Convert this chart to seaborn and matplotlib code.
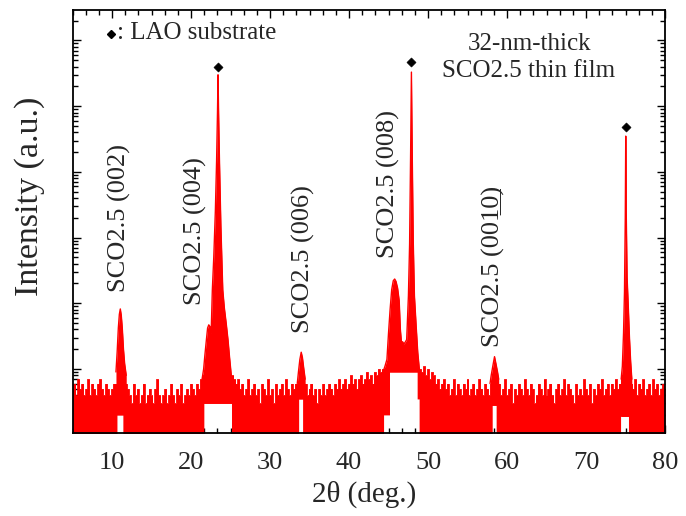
import numpy as np
import matplotlib
matplotlib.use('Agg')
import matplotlib.pyplot as plt
from matplotlib.ticker import MultipleLocator, LogLocator, NullFormatter
import seaborn as sns

# background counts, one value every 0.25 deg from 5 deg to 80 deg
bg_start, bg_step = 5.0, 0.25
bg_counts = [
    5, 6, 4, 7, 5, 6, 4, 5, 7, 4, 6, 5, 4, 6, 7, 5, 4, 6, 5, 4, 5, 6,          # 5 - 10.25
    6, 6, 6, 6, 6, 6,                                                          # 10.5 - 11.75
    5, 4, 3, 6, 4, 5, 3, 4, 6, 3, 4, 5, 4, 3, 5, 7, 4, 3, 4, 5, 3, 4, 6, 4, 3,
    5, 4, 6, 3, 4, 5, 4, 6,                                                    # 12 - 20
    5, 4, 6, 5, 7,                                                             # 20.25 - 21.25
    8, 8, 8, 8, 8, 8, 8, 8, 8, 8, 8, 8, 8, 8, 8, 8,                            # 21.5 - 25.25
    7, 6, 7, 5, 6, 4, 5, 7, 4, 5, 6, 4, 5, 3, 6, 5, 4, 7, 4, 5, 3, 6, 4, 5, 6,
    4, 7, 5, 4, 6, 5, 6,                                                       # 25.5 - 33.25
    6, 6, 6, 6, 6,                                                             # 33.5 - 34.5
    4, 5, 6, 4, 5, 3, 5, 4, 6, 4, 5, 6, 5, 4, 6, 5, 7, 5, 6, 7, 5, 6, 8, 6, 7,
    5, 7, 8, 6, 7, 9, 7, 8, 6, 9, 8, 10, 9,                                    # 34.75 - 44
    10, 10, 10, 10, 10, 10, 10, 10, 10, 10, 10, 10, 10, 10, 10, 10, 10, 10, 10, 10,  # 44.25 - 49
    9, 11, 8, 10, 7, 9, 8, 6, 7, 5, 6, 7, 5, 6, 4, 5, 7, 4, 6, 5, 4, 6, 5, 7, 4,
    5, 6, 4, 5, 7, 5, 4, 6, 5, 4, 6,                                           # 49.25 - 58
    6, 6,                                                                      # 58.25 - 58.5
    5, 6, 4, 5, 7, 4, 5, 6, 3, 5, 4, 6, 5, 4, 7, 5, 4, 6, 5, 3, 4, 6, 5, 4, 7,
    4, 5, 6, 4, 3, 5, 6, 4, 5, 7, 4, 6, 5, 4, 3, 6, 4, 5, 4, 7, 5, 4, 6, 3, 5,
    4, 6, 5, 7, 4, 5, 6, 4, 6, 5, 7, 5, 6,                                     # 58.75 - 74.25
    8, 8, 8, 8, 8,                                                             # 74.5 - 75.5
    6, 5, 7, 4, 6, 5, 7, 4, 5, 6, 4, 7, 5, 6, 4, 5, 6, 5,                      # 75.75 - 80
]

# white gaps under the peaks (where the scan never drops to zero)
gap_from = [10.65, 21.6, 33.7, 44.3, 45.1, 48.6, 58.05, 74.47]
gap_to = [11.45, 25.2, 34.2, 45.1, 48.6, 48.95, 58.7, 75.45]
gap_floor = [2.0, 3.0, 3.5, 2.0, 9.0, 3.5, 2.8, 1.9]

# peak profiles
p002_x = [10.5, 10.65, 10.8, 10.93, 11.05, 11.17, 11.3, 11.45, 11.6, 11.8]
p002_y = [9, 18, 42, 68, 82, 66, 42, 20, 12, 8]

p004_x = [21.4, 21.6, 21.75, 21.95, 22.1, 22.25, 22.4, 22.55, 22.7, 22.88, 23.08, 23.24,
          23.35, 23.42, 23.49, 23.6, 23.78, 24.02, 24.22, 24.45, 24.68, 24.88, 25.1, 25.3]
p004_y = [7, 10, 16, 28, 42, 47, 44, 35, 160, 500, 2500, 1.5e4,
          8e4, 3e5, 8e4, 1.5e4, 1500, 160, 85, 50, 28, 15, 8, 6]

p006_x = [33.45, 33.6, 33.78, 33.95, 34.1, 34.28, 34.45]
p006_y = [6, 9, 14, 18, 15, 10, 7]

p008_x = [44.3, 44.55, 44.8, 45.0, 45.2, 45.4, 45.6, 45.78, 45.95, 46.15, 46.35, 46.5,
          46.62, 46.7, 46.78, 46.95, 47.15, 47.3, 47.52, 47.67, 47.8, 47.9, 48.0, 48.13,
          48.28, 48.5, 48.7, 48.9, 49.1]
p008_y = [9, 11, 14, 35, 80, 160, 220, 234, 215, 170, 110, 40,
          27, 10, 26, 24, 26, 28, 130, 800, 2e4, 3.3e5, 2e4, 900,
          130, 45, 18, 10, 8]

p0010_x = [57.85, 58.0, 58.2, 58.42, 58.6, 58.8, 58.95]
p0010_y = [6, 8, 11, 15.4, 12, 9, 7]

plao3_x = [74.45, 74.6, 74.75, 74.87, 74.97, 75.03, 75.09, 75.2, 75.35, 75.5, 75.65, 75.8]
plao3_y = [7, 11, 35, 150, 2000, 3.5e4, 2500, 250, 90, 30, 13, 7]

peak_floor = [2.0, 3.0, 3.5, 9.0, 2.8, 1.9]

# LAO substrate markers
lao_x = [23.42, 47.9, 75.03]
lao_y = [4.0e5, 4.75e5, 4.9e4]

# film peak labels
label_x = [11.0, 20.6, 34.2, 44.95, 58.23]
label_y = [150, 94, 35, 490, 21.6]
label_txt = ['SCO2.5 (002)', 'SCO2.5 (004)', 'SCO2.5 (006)', 'SCO2.5 (008)',
             'SCO2.5 (001\u03320\u0332)']

sns.set_style('ticks')
plt.rcParams['font.family'] = ['Liberation Serif', 'DejaVu Sans']

fig = plt.figure(figsize=(6.86, 5.16), dpi=100)
ax = fig.add_axes([0.1057, 0.1609, 0.8637, 0.8198])
ax.set_yscale('log')

bg_x = bg_start + bg_step * np.arange(len(bg_counts))
bg_y = np.array(bg_counts, dtype=float)
bg_low = np.full(len(bg_x), 0.3)
for a, b, f in zip(gap_from, gap_to, gap_floor):
    bg_low[(bg_x >= a) & (bg_x <= b)] = f
ax.fill_between(bg_x, bg_low, bg_y, step='mid', color='red', lw=0)
sns.lineplot(x=bg_x, y=bg_y, drawstyle='steps-mid', color='red', lw=0.6,
             estimator=None, ax=ax)

peaks = [(p002_x, p002_y), (p004_x, p004_y), (p006_x, p006_y),
         (p008_x, p008_y), (p0010_x, p0010_y), (plao3_x, plao3_y)]
for (px, py), fl in zip(peaks, peak_floor):
    ax.fill_between(px, fl, py, color='red', lw=0)
    sns.lineplot(x=px, y=py, color='red', lw=1.0, estimator=None, sort=False, ax=ax)

sns.scatterplot(x=lao_x, y=lao_y, marker='D', color='black', edgecolor='black',
                s=22, ax=ax, zorder=5)

for x, y, t in zip(label_x, label_y, label_txt):
    ax.text(x, y, t, rotation=90, ha='center', va='bottom', fontsize=19)

ax.plot([0.0645], [0.9426], 'D', color='black', ms=4.2, transform=ax.transAxes)
ax.text(0.0746, 0.9456, ': LAO substrate', transform=ax.transAxes, va='center', fontsize=18)
ax.text(0.7705, 0.8877, '32-nm-thick\nSCO2.5 thin film', transform=ax.transAxes,
        ha='center', va='center', fontsize=18, linespacing=1.25)

ax.set_xlim(5, 80)
ax.set_ylim(1.062, 2.91e6)
ax.xaxis.set_major_locator(MultipleLocator(10))
ax.xaxis.set_minor_locator(MultipleLocator(10 / 6))
ax.yaxis.set_major_locator(LogLocator(base=10, numticks=20))
ax.yaxis.set_minor_locator(LogLocator(base=10, subs=np.arange(2, 10), numticks=100))
ax.yaxis.set_major_formatter(NullFormatter())
ax.yaxis.set_minor_formatter(NullFormatter())

ax.tick_params(which='both', direction='in', top=True, right=True, color='black', width=1)
ax.tick_params(which='major', length=6)
ax.tick_params(which='minor', length=3.5)
ax.tick_params(axis='x', labelsize=19, pad=14)
for s in ax.spines.values():
    s.set_linewidth(1.3)
    s.set_color('black')

ax.set_xlabel('2\u03b8 (deg.)', fontsize=21)
ax.xaxis.set_label_coords(0.492, -0.145)
ax.xaxis.label.set_va('center')
ax.set_ylabel('Intensity (a.u.)', fontsize=24.5)
ax.yaxis.set_label_coords(-0.0717, 0.560)
ax.yaxis.label.set_va('center')

fig.savefig('out.png', dpi=100)
